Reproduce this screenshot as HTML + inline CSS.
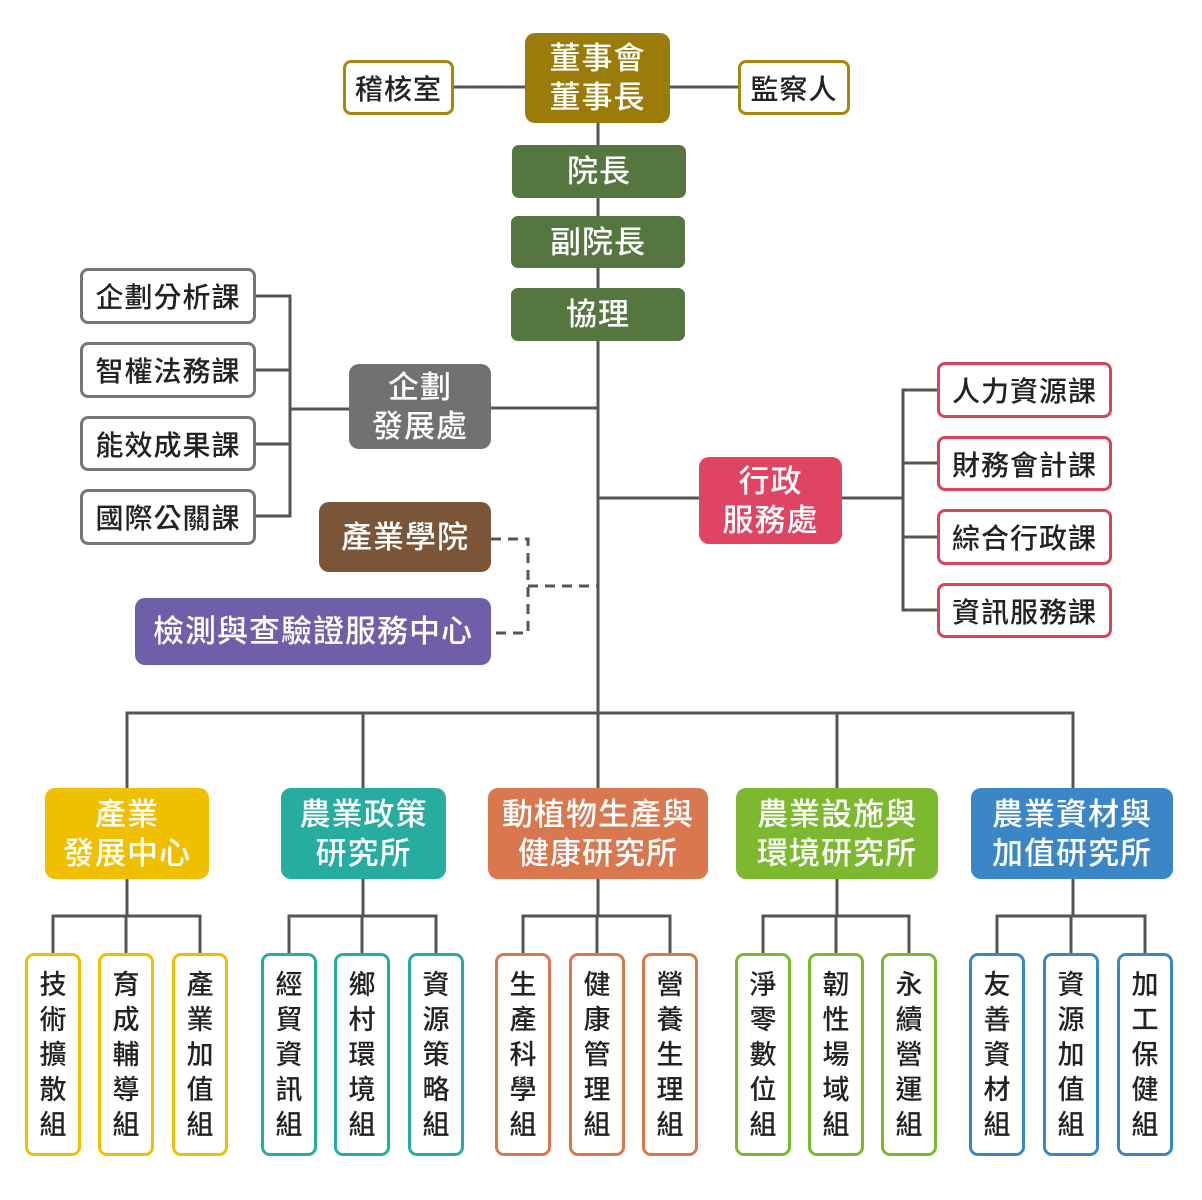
<!DOCTYPE html>
<html><head><meta charset="utf-8"><style>
body{margin:0;width:1202px;height:1200px;background:#fff;position:relative;overflow:hidden;font-family:"Liberation Sans","Noto Sans CJK TC",sans-serif}
.b{position:absolute;box-sizing:border-box;display:flex;align-items:center;justify-content:center;text-align:center;border-radius:10px}
.f{color:#fff;font-weight:500;font-size:31px;line-height:39px;letter-spacing:1px}
.o{background:#fff;color:#222;font-size:28px;font-weight:500;border:3px solid #777;border-radius:8px;letter-spacing:1px}
.l{top:953px;height:203px;width:56px;line-height:35px;font-size:27px;font-weight:500;background:#fff;color:#222;border:3px solid;border-radius:9px;padding-top:2px}
svg{position:absolute;left:0;top:0}
</style></head><body>
<svg width="1202" height="1200" fill="none" stroke="#555" stroke-width="3">
<path d="M454 87H738M598 123V713"/>
<path d="M491 408H598M290 409H349M256 296H290V516H256M256 370H290M256 444H290"/>
<path d="M598 498H699M842 498H903M937 390H903V610H937M903 463H937M903 537H937"/>
<path d="M491 539H528V633H491M528 586H598" stroke-dasharray="10 7"/>
<path d="M127 788V713H1073V788M363 713V788M598 713V788M837 713V788"/>
<g>
<path d="M127 879V916M53 953V916H200V953M126 916V953"/>
<path d="M363 879V916M289 953V916H436V953M362 916V953"/>
<path d="M598 879V916M523 953V916H670V953M597 916V953"/>
<path d="M837 879V916M763 953V916H909V953M836 916V953"/>
<path d="M1073 879V916M997 953V916H1145V953M1071 916V953"/>
</g>
</svg>
<div class="b f" style="left:525px;top:33px;width:145px;height:90px;background:#9b7c0b">董事會<br>董事長</div>
<div class="b o" style="left:343px;top:60px;width:111px;height:55px;border-color:#a8870f">稽核室</div>
<div class="b o" style="left:738px;top:60px;width:112px;height:55px;border-color:#a8870f">監察人</div>
<div class="b f" style="left:512px;top:145px;width:174px;height:53px;background:#55773f;border-radius:7px">院長</div>
<div class="b f" style="left:511px;top:216px;width:174px;height:52px;background:#55773f;border-radius:7px">副院長</div>
<div class="b f" style="left:511px;top:288px;width:174px;height:53px;background:#55773f;border-radius:7px">協理</div>
<div class="b f" style="left:349px;top:364px;width:142px;height:85px;background:#717171">企劃<br>發展處</div>
<div class="b o" style="left:80px;top:268px;width:176px;height:56px">企劃分析課</div>
<div class="b o" style="left:80px;top:342px;width:176px;height:56px">智權法務課</div>
<div class="b o" style="left:80px;top:416px;width:176px;height:55px">能效成果課</div>
<div class="b o" style="left:80px;top:489px;width:176px;height:56px">國際公關課</div>
<div class="b f" style="left:699px;top:457px;width:143px;height:87px;background:#df4462">行政<br>服務處</div>
<div class="b o" style="left:937px;top:362px;width:175px;height:56px;border-color:#d9435c">人力資源課</div>
<div class="b o" style="left:937px;top:436px;width:175px;height:55px;border-color:#d9435c">財務會計課</div>
<div class="b o" style="left:937px;top:509px;width:175px;height:56px;border-color:#d9435c">綜合行政課</div>
<div class="b o" style="left:937px;top:583px;width:175px;height:55px;border-color:#d9435c">資訊服務課</div>
<div class="b f" style="left:319px;top:502px;width:172px;height:70px;background:#7b5538">產業學院</div>
<div class="b f" style="left:135px;top:598px;width:356px;height:67px;background:#6f5fa8">檢測與查驗證服務中心</div>
<div class="b f" style="left:45px;top:788px;width:164px;height:91px;background:#f0c000">產業<br>發展中心</div>
<div class="b f" style="left:281px;top:788px;width:165px;height:91px;background:#27ada0">農業政策<br>研究所</div>
<div class="b f" style="left:488px;top:788px;width:220px;height:91px;background:#d9774e">動植物生產與<br>健康研究所</div>
<div class="b f" style="left:736px;top:788px;width:202px;height:91px;background:#7db92e">農業設施與<br>環境研究所</div>
<div class="b f" style="left:971px;top:788px;width:202px;height:91px;background:#3a86c7">農業資材與<br>加值研究所</div>
<div class="b l" style="left:25px;border-color:#f0c000">技<br>術<br>擴<br>散<br>組</div>
<div class="b l" style="left:98px;border-color:#f0c000">育<br>成<br>輔<br>導<br>組</div>
<div class="b l" style="left:172px;border-color:#f0c000">產<br>業<br>加<br>值<br>組</div>
<div class="b l" style="left:261px;border-color:#27ada0">經<br>貿<br>資<br>訊<br>組</div>
<div class="b l" style="left:334px;border-color:#27ada0">鄉<br>村<br>環<br>境<br>組</div>
<div class="b l" style="left:408px;border-color:#27ada0">資<br>源<br>策<br>略<br>組</div>
<div class="b l" style="left:495px;border-color:#d9774e">生<br>產<br>科<br>學<br>組</div>
<div class="b l" style="left:569px;border-color:#d9774e">健<br>康<br>管<br>理<br>組</div>
<div class="b l" style="left:642px;border-color:#d9774e">營<br>養<br>生<br>理<br>組</div>
<div class="b l" style="left:735px;border-color:#7db92e">淨<br>零<br>數<br>位<br>組</div>
<div class="b l" style="left:808px;border-color:#7db92e">韌<br>性<br>場<br>域<br>組</div>
<div class="b l" style="left:881px;border-color:#7db92e">永<br>續<br>營<br>運<br>組</div>
<div class="b l" style="left:969px;border-color:#3a86c7">友<br>善<br>資<br>材<br>組</div>
<div class="b l" style="left:1043px;border-color:#3a86c7">資<br>源<br>加<br>值<br>組</div>
<div class="b l" style="left:1117px;border-color:#3a86c7">加<br>工<br>保<br>健<br>組</div>
</body></html>
